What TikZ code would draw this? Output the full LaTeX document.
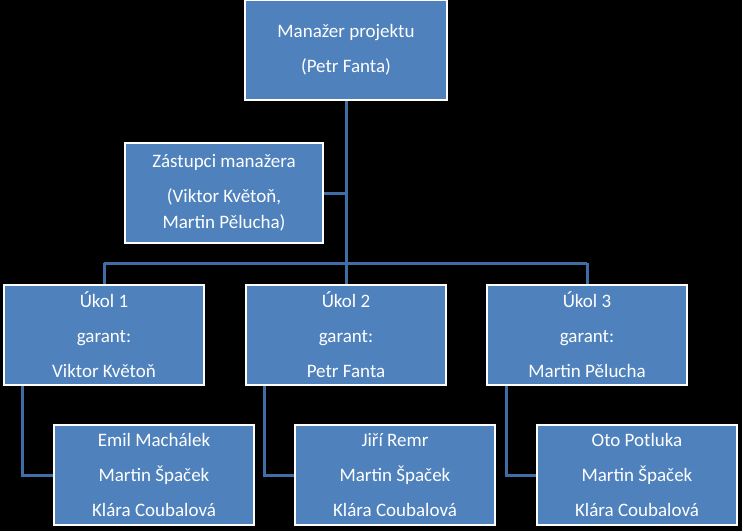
\documentclass[tikz,border=0pt]{standalone}
\usepackage{fontspec}
\setmainfont{Carlito}
\usetikzlibrary{positioning}
\definecolor{boxblue}{HTML}{4F81BD}
\definecolor{lineblue}{HTML}{3F6EA6}
\tikzset{
  orgbox/.style={draw=white, line width=2pt, fill=boxblue, text=white,
    minimum width=200pt, minimum height=100pt, align=center, inner sep=0pt,
    font=\fontsize{19}{35}\selectfont},
  link/.style={draw=lineblue, line width=3pt}
}
\begin{document}
\begin{tikzpicture}[x=1pt,y=-1pt]
  % background
  \fill[black] (0,0) rectangle (742,531);
  \useasboundingbox (0,0) rectangle (742,531);

  % Connectors (behind boxes)
  \coordinate (hubL) at (104,263);
  \coordinate (hubR) at (587,263);
  \coordinate (hubM) at (346,263);
  \coordinate (depJ) at (346,193);
  \draw[link] (346,50) -- (hubM);
  \draw[link] (hubL) -- (hubR);
  \draw[link] (hubL) -- (104,300);
  \draw[link] (hubM) -- (346,300);
  \draw[link] (hubR) -- (587,300);
  \draw[link] (224,193) -- (depJ);
  \draw[link] (22,335) |- (154,475);
  \draw[link] (264,335) |- (395,475);
  \draw[link] (506,335) |- (637,475);

  % Boxes
  \node[orgbox, minimum width=202pt] (pm) at (346,50) {Manažer projektu\\(Petr Fanta)};
  \node[orgbox, minimum width=198pt] (dep) at (224,193) {Zástupci manažera\\(Viktor Květoň,\\[-9pt]Martin Pělucha)};
  \node[orgbox] (t1) at (104,335) {Úkol 1\\garant:\\Viktor Květoň};
  \node[orgbox] (t2) at (346,335) {Úkol 2\\garant:\\Petr Fanta};
  \node[orgbox] (t3) at (587,335) {Úkol 3\\garant:\\Martin Pělucha};
  \node[orgbox] (m1) at (154,475) {Emil Machálek\\Martin Špaček\\Klára Coubalová};
  \node[orgbox] (m2) at (395,475) {Jiří Remr\\Martin Špaček\\Klára Coubalová};
  \node[orgbox] (m3) at (637,475) {Oto Potluka\\Martin Špaček\\Klára Coubalová};
\end{tikzpicture}
\end{document}
